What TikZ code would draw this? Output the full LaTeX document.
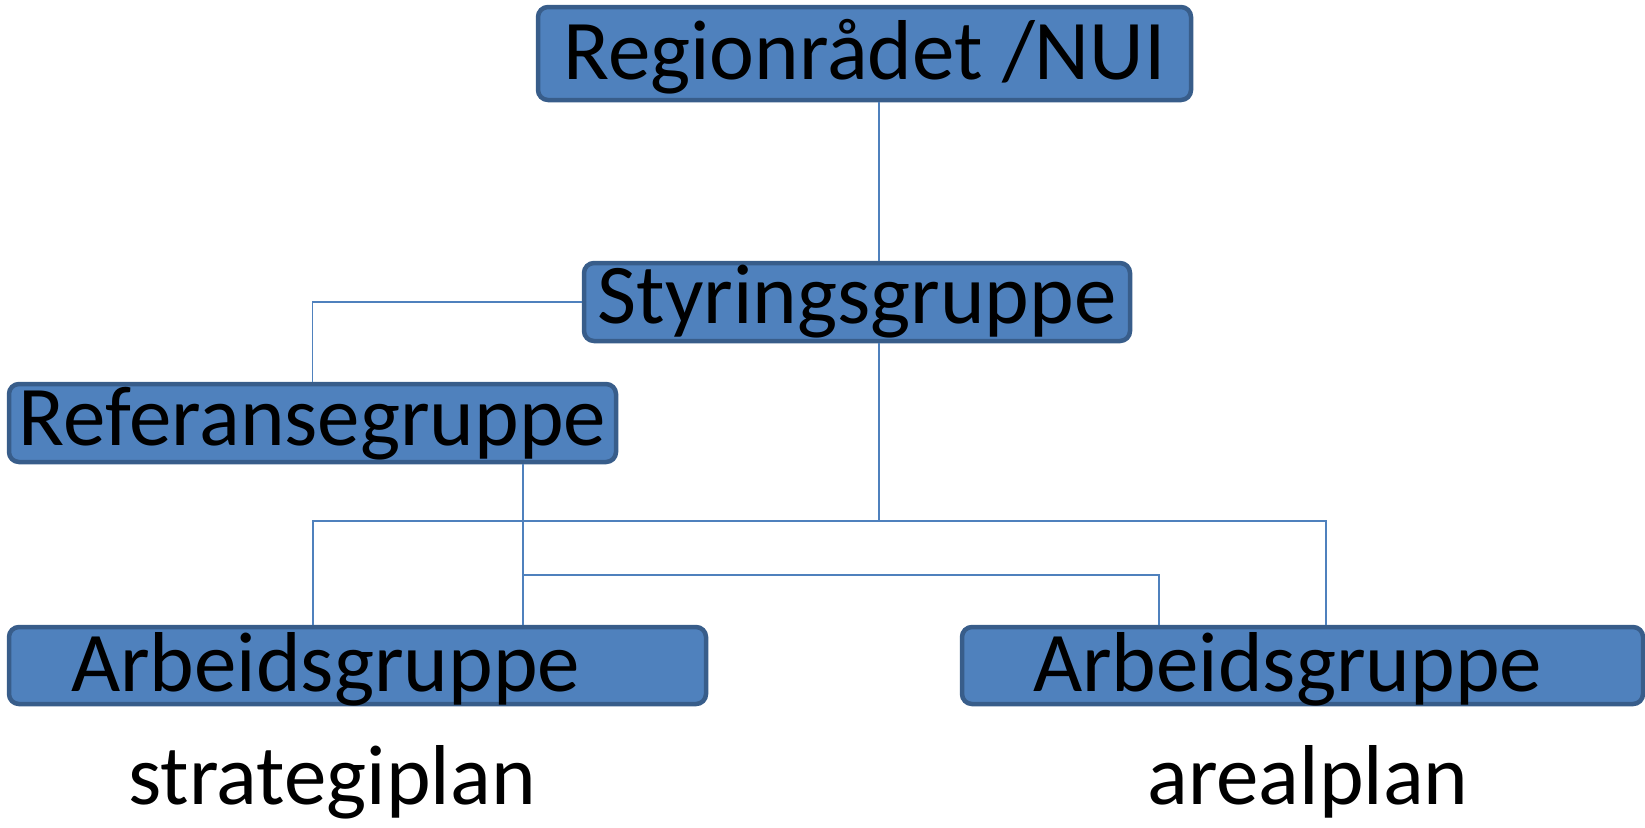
\documentclass[tikz,border=0pt]{standalone}
\usepackage{fontspec}
\setmainfont{Carlito}
\usepackage{tikz}
\definecolor{boxfill}{HTML}{4F81BD}
\definecolor{boxline}{HTML}{385D8A}
\definecolor{linkblue}{HTML}{4F81BD}
\newcommand{\bigfont}{\fontsize{85}{100}\selectfont}

\begin{document}
\begin{tikzpicture}[x=1pt,y=-1pt,
  group box/.style={draw=boxline, fill=boxfill, line width=4.5pt, rounded corners=10pt,
    inner ysep=0pt, inner xsep=6pt, text height=60pt, text depth=17pt, font=\bigfont},
  plan label/.style={anchor=base, inner sep=0pt, font=\bigfont},
  link/.style={draw=linkblue, line width=1.8pt}]
  \useasboundingbox (0,0) rectangle (1645,827);

  \node[group box, minimum width=653pt, text height=72pt, text depth=21pt] (region) at (864.5,53.5) {Regionrådet /NUI};
  \node[group box, minimum width=546pt, text height=60pt, text depth=18pt] (styr) at (857,302) {Styringsgruppe};
  \node[group box, minimum width=607pt, text height=61pt, text depth=17pt] (ref) at (312.5,423) {Referansegruppe};
  \node[group box, inner xsep=62pt, text width=573pt, align=left, text height=64pt, text depth=13pt] (arbL) at (357.5,665.5) {Arbeidsgruppe};
  \node[group box, inner xsep=71pt, text width=539pt, align=left, text height=64pt, text depth=13pt] (arbR) at (1302.5,665.5) {Arbeidsgruppe};
  \node[plan label] (strat) at (332,804) {strategiplan};
  \node[plan label] (areal) at (1308,804) {arealplan};

  \coordinate (hub) at (879,521);
  \coordinate (hubL) at (313,521);
  \coordinate (hubR) at (1326,521);
  \coordinate (refx) at (523,575);
  \coordinate (refR) at (1159,575);

  \path[link]
    (region.south -| hub) edge (styr.north -| hub)
    (styr.south -| hub) edge (hub);
  \draw[link] (styr.west) -| (ref.north);
  \draw[link] (arbL.north -| hubL) -- (hubL) -- (hubR) -- (arbR.north -| hubR);
  \draw[link] (ref.south -| refx) -- (arbL.north -| refx);
  \draw[link] (refx) -- (refR) -- (arbR.north -| refR);
\end{tikzpicture}
\end{document}
